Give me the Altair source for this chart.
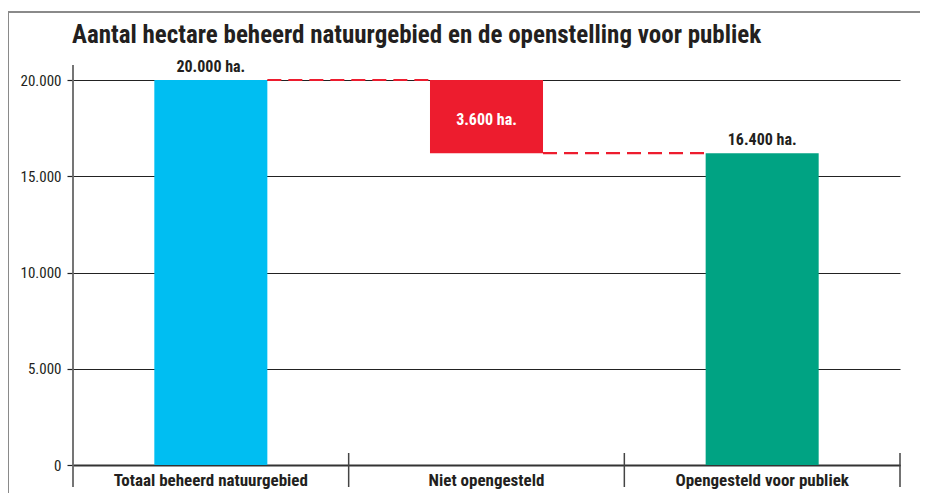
import altair as alt
import pandas as pd

categories = ["Totaal beheerd natuurgebied", "Niet opengesteld", "Opengesteld voor publiek"]
bar_low = [0, 16200, 0]
bar_high = [20000, 20000, 16200]
bar_labels = ["20.000 ha.", "3.600 ha.", "16.400 ha."]
bar_colors = ["#00BEF2", "#ED1C2E", "#00A383"]
label_colors = ["#231F20", "#FFFFFF", "#231F20"]
y_ticks = [0, 5000, 10000, 15000, 20000]

conn_from = ["Totaal beheerd natuurgebied", "Niet opengesteld"]
conn_to = ["Niet opengesteld", "Opengesteld voor publiek"]
conn_value = [20000, 16200]

FONT = "Roboto Condensed, Noto Sans Condensed, Liberation Sans Narrow, DejaVu Sans Condensed, sans-serif"
BAR_FRAC = 0.41

bars = pd.DataFrame({
    "cat": categories, "low": bar_low, "high": bar_high,
    "label": bar_labels, "color": bar_colors, "lcolor": label_colors,
    "mid": [(a + b) / 2 for a, b in zip(bar_low, bar_high)],
})
conns = pd.DataFrame({"from": conn_from, "to": conn_to, "v": conn_value})
edges = pd.DataFrame({"cat": categories})

xscale = alt.Scale(domain=categories, paddingInner=0, paddingOuter=0)
yscale = alt.Scale(domain=[0, 20000], nice=False)

x_enc = alt.X("cat:N", scale=xscale, sort=categories, title=None,
              axis=alt.Axis(labelFont=FONT, labelFontSize=17, labelFontWeight="bold",
                            labelColor="#231F20", labelPadding=7, ticks=False,
                            domainColor="#333333", domainWidth=2, labelAngle=0,
                            labelLimit=300))
y_enc = alt.Y("low:Q", scale=yscale, title=None,
              axis=alt.Axis(values=y_ticks, grid=True, gridColor="#222222", gridWidth=1.2,
                            tickColor="#222222", tickSize=6, tickWidth=1.2, domain=False,
                            labelFont=FONT, labelFontSize=15, labelColor="#231F20",
                            labelPadding=6,
                            labelExpr="replace(format(datum.value, ','), ',', '.')"))

base = alt.Chart(bars)

bar_layer = base.mark_bar(width=alt.RelativeBandSize(BAR_FRAC)).encode(
    x=x_enc, y=y_enc, y2="high:Q",
    color=alt.Color("color:N", scale=None),
)

top_text = alt.Chart(bars).transform_filter("datum.lcolor != '#FFFFFF'").mark_text(
    font=FONT, fontSize=16, fontWeight="bold", baseline="bottom", dy=-5, color="#231F20"
).encode(
    x=alt.X("cat:N", scale=xscale, sort=categories),
    y=alt.Y("high:Q", scale=yscale),
    text="label:N",
)

in_text = alt.Chart(bars).transform_filter("datum.lcolor == '#FFFFFF'").mark_text(
    font=FONT, fontSize=16, fontWeight="bold", baseline="middle", dy=3, color="#FFFFFF"
).encode(
    x=alt.X("cat:N", scale=xscale, sort=categories),
    y=alt.Y("mid:Q", scale=yscale),
    text="label:N",
)

conn_layer = alt.Chart(conns).mark_rule(
    color="#ED1C2E", strokeWidth=2.2, strokeDash=[14, 7]
).encode(
    x=alt.X("from:N", scale=xscale, sort=categories, bandPosition=0.5 + BAR_FRAC / 2),
    x2=alt.X2("to:N", bandPosition=0.5 - BAR_FRAC / 2),
    y=alt.Y("v:Q", scale=yscale),
)

# band-boundary separators on the category axis
sep_left = alt.Chart(edges).transform_filter(
    alt.datum.cat != categories[0]
).mark_rule(color="#444444", strokeWidth=1.5).encode(
    x=alt.X("cat:N", scale=xscale, sort=categories, bandPosition=0),
    y=alt.value(373), y2=alt.value(407),
)
sep_right = alt.Chart(edges).transform_filter(
    alt.datum.cat == categories[-1]
).mark_rule(color="#444444", strokeWidth=1.5).encode(
    x=alt.X("cat:N", scale=xscale, sort=categories, bandPosition=1),
    y=alt.value(373), y2=alt.value(407),
)
# value axis line (first band's left edge), extending above and below the plot
yline = alt.Chart(edges).transform_filter(
    alt.datum.cat == categories[0]
).mark_rule(color="#666666", strokeWidth=1.8).encode(
    x=alt.X("cat:N", scale=xscale, sort=categories, bandPosition=0),
    y=alt.value(-15), y2=alt.value(407),
)

# frame around the graphic
frame_top = alt.Chart(edges).transform_filter(alt.datum.cat == categories[0]).mark_rule(
    color="#8A8A8A", strokeWidth=2).encode(
    x=alt.value(-65), x2=alt.value(862), y=alt.value(-68))
frame_left = alt.Chart(edges).transform_filter(alt.datum.cat == categories[0]).mark_rule(
    color="#8A8A8A", strokeWidth=2).encode(
    x=alt.value(-65), y=alt.value(-68), y2=alt.value(440))

chart = alt.layer(
    bar_layer, conn_layer, top_text, in_text, sep_left, sep_right, yline, frame_top, frame_left
).properties(
    width=827, height=385,
    autosize=alt.AutoSizeParams(type="none"),
    padding={"left": 65, "top": 72, "right": 20, "bottom": 28},
    title=alt.TitleParams(
        "Aantal hectare beheerd natuurgebied en de openstelling voor publiek",
        anchor="start", font=FONT, fontSize=25, fontWeight="bold", color="#231F20",
        frame="group", dx=-1, offset=-57, baseline="alphabetic",
    ),
).configure_view(stroke=None).configure_axis(labelFlush=False)

chart.save("out.html", embed_options={"renderer": "svg", "actions": False})
